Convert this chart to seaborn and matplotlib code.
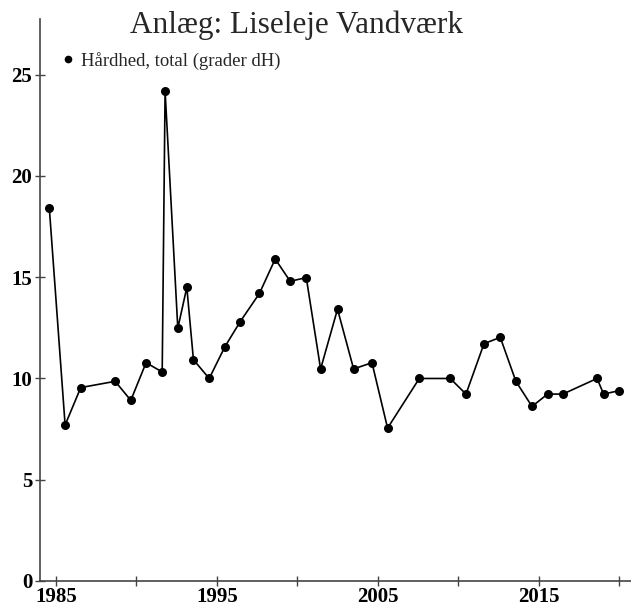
"""
Hardness over time for Liseleje Vandværk
"""
import pandas as pd
import numpy as np

import matplotlib
matplotlib.use('Agg')
import matplotlib.pyplot as plt
from matplotlib.lines import Line2D
import seaborn as sns

# sample dates as decimal years
years = [1984.6, 1985.58, 1986.55, 1988.69, 1989.66, 1990.61, 1991.61, 1991.79,
         1992.58, 1993.14, 1993.55, 1994.53, 1995.5, 1996.45, 1997.65, 1998.63,
         1999.56, 2000.56, 2001.45, 2002.5, 2003.5, 2004.64, 2005.61, 2007.58,
         2009.5, 2010.48, 2011.6, 2012.61, 2013.58, 2014.58, 2015.55, 2016.5,
         2018.62, 2019.03, 2020.0]
# Hårdhed, total (grader dH)
hardness = [18.4, 7.7, 9.55, 9.86, 8.92, 10.78, 10.32, 24.2,
            12.48, 14.5, 10.93, 10.0, 11.56, 12.8, 14.2, 15.9,
            14.8, 14.98, 10.47, 13.42, 10.47, 10.78, 7.55, 10.0,
            10.0, 9.23, 11.72, 12.03, 9.86, 8.62, 9.23, 9.23,
            10.0, 9.23, 9.4]

year_ticks = [1985, 1990, 1995, 2000, 2005, 2010, 2015, 2020]
year_labels = ['1985', '', '1995', '', '2005', '', '2015', '']
y_ticks = [0, 5, 10, 15, 20, 25]

series_name = 'Hårdhed, total (grader dH)'
title = 'Anlæg: Liseleje Vandværk'

df = pd.DataFrame({'year': years, 'value': hardness})

sns.set_style('ticks')
plt.rcParams['font.family'] = ['Liberation Serif', 'DejaVu Serif']

fig = plt.figure(figsize=(6.31, 6.07), dpi=100)
ax = fig.add_axes([40 / 631, 26 / 607, 591 / 631, 562 / 607])

sns.lineplot(data=df, x='year', y='value', ax=ax, color='black',
             marker='o', markersize=6.5, markeredgewidth=0,
             linewidth=1.2, sort=False, errorbar=None, legend=False)

ax.set_xlim(1984.02, 2020.73)
ax.set_ylim(0, 27.75)
ax.set_xticks(year_ticks)
ax.set_xticklabels(year_labels)
ax.set_yticks(y_ticks)
ax.set_xlabel('')
ax.set_ylabel('')

for lab in ax.get_xticklabels() + ax.get_yticklabels():
    lab.set_fontsize(15)
    lab.set_fontweight('bold')

ax.tick_params(axis='both', direction='inout', length=7, width=1,
               color='#444444', labelcolor='black')
ax.tick_params(axis='x', pad=1)
ax.tick_params(axis='y', pad=2)
for side in ['top', 'right']:
    ax.spines[side].set_visible(False)
for side in ['left', 'bottom']:
    ax.spines[side].set_color('#444444')
    ax.spines[side].set_linewidth(1.2)

handle = Line2D([], [], color='black', marker='o', linestyle='none',
                markersize=5.5, markeredgewidth=0)
ax.legend(handles=[handle], labels=[series_name], loc='upper left',
          bbox_to_anchor=(62 / 631, 1 - 52 / 607), bbox_transform=fig.transFigure,
          frameon=False, fontsize=13.5, handlelength=0.6, handletextpad=0.4,
          borderpad=0, borderaxespad=0)

fig.text(296 / 631, 1 - 25 / 607, title, ha='center', va='center', fontsize=22.5)

plt.savefig('out.png', dpi=100)
plt.close()
